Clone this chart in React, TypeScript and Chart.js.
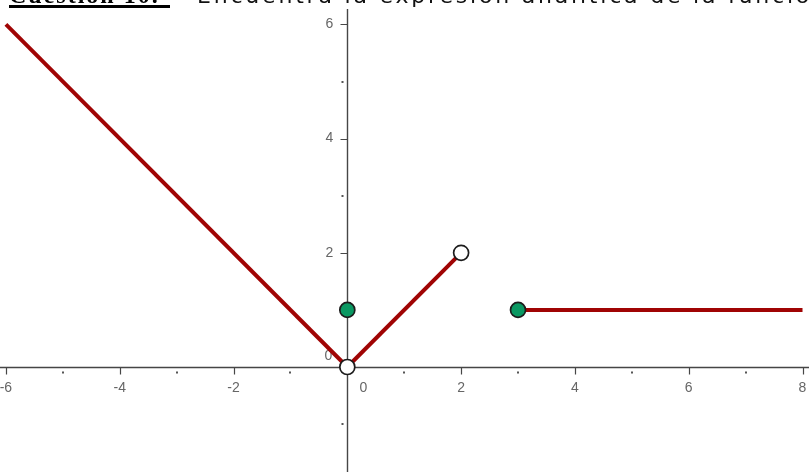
import React, { useEffect, useRef } from "react";
import { Chart, registerables } from "chart.js";

Chart.register(...registerables);

// Branches of the piecewise function
const leftBranchX = [-6, 0];
const leftBranchY = [6, 0];
const middleBranchX = [0, 2];
const middleBranchY = [0, 2];
const rightBranchX = [3, 8];
const rightBranchY = [1, 1];

// Closed (filled) and open (hollow) points
const closedPointsX = [0, 3];
const closedPointsY = [1, 1];
const openPointsX = [0, 2];
const openPointsY = [0, 2];

// Axis ticks and labels
const xMajorTicks = [-6, -4, -2, 0, 2, 4, 6, 8];
const xTickLabels = ["-6", "-4", "-2", "0", "2", "4", "6", "8"];
const xMinorTicks = [-5, -3, -1, 1, 3, 5, 7];
const yMajorTicks = [0, 2, 4, 6];
const yTickLabels = ["0", "2", "4", "6"];
const yMinorTicks = [-1, 1, 3, 5];

const titleBold = "Cuestión 10.";
const titleRest = "Encuentra la expresión analítica de la función";

const toPoints = (xs: number[], ys: number[]) => xs.map((x, i) => ({ x, y: ys[i] }));

const axesPlugin = {
  id: "centerAxes",
  beforeDatasetsDraw(chart: any) {
    const { ctx, chartArea } = chart;
    const xs = chart.scales.x;
    const ys = chart.scales.y;
    const x0 = Math.round(xs.getPixelForValue(0)) + 0.5;
    const y0 = Math.round(ys.getPixelForValue(0)) + 0.5;
    ctx.save();
    ctx.strokeStyle = "#464646";
    ctx.lineWidth = 1.4;
    ctx.beginPath();
    ctx.moveTo(chartArea.left, y0);
    ctx.lineTo(chartArea.right, y0);
    ctx.moveTo(x0, chartArea.top);
    ctx.lineTo(x0, chartArea.bottom);
    ctx.stroke();

    // major ticks
    ctx.lineWidth = 1.2;
    ctx.beginPath();
    xMajorTicks.forEach((v) => {
      if (v === 0) return;
      const px = Math.round(xs.getPixelForValue(v)) + 0.5;
      ctx.moveTo(px, y0);
      ctx.lineTo(px, y0 + 7);
    });
    yMajorTicks.forEach((v) => {
      if (v === 0) return;
      const py = Math.round(ys.getPixelForValue(v)) + 0.5;
      ctx.moveTo(x0 - 7, py);
      ctx.lineTo(x0, py);
    });
    ctx.stroke();

    // minor ticks (dots)
    ctx.fillStyle = "#555";
    xMinorTicks.forEach((v) => {
      const px = Math.round(xs.getPixelForValue(v));
      ctx.fillRect(px - 1, y0 + 4, 2, 2);
    });
    yMinorTicks.forEach((v) => {
      const py = Math.round(ys.getPixelForValue(v));
      ctx.fillRect(x0 - 6, py - 1, 2, 2);
    });

    // labels
    ctx.fillStyle = "#666666";
    ctx.font = "14px 'Liberation Sans', Arial, sans-serif";
    ctx.textBaseline = "middle";
    ctx.textAlign = "center";
    xMajorTicks.forEach((v, i) => {
      const px = xs.getPixelForValue(v);
      const lx = v === 0 ? px + 16 : px;
      ctx.fillText(xTickLabels[i], lx, y0 + 21);
    });
    yMajorTicks.forEach((v, i) => {
      const py = ys.getPixelForValue(v);
      if (v === 0) {
        ctx.fillText(yTickLabels[i], x0 - 19, py - 11);
      } else {
        ctx.fillText(yTickLabels[i], x0 - 18, py);
      }
    });
    ctx.restore();
  },
};

export default function App() {
  const canvasRef = useRef<HTMLCanvasElement | null>(null);

  useEffect(() => {
    document.body.style.margin = "0";
    document.body.style.background = "#ffffff";
    const canvas = canvasRef.current;
    if (!canvas) return;
    const red = "#a00404";
    const green = "#0a9862";
    const chart = new Chart(canvas, {
      type: "scatter",
      data: {
        datasets: [
          {
            data: toPoints(openPointsX, openPointsY),
            pointRadius: 7.5,
            pointBorderWidth: 1.7,
            pointBorderColor: "#1c1c1c",
            pointBackgroundColor: "#ffffff",
            showLine: false,
          },
          {
            data: toPoints(closedPointsX, closedPointsY),
            pointRadius: 7.5,
            pointBorderWidth: 1.7,
            pointBorderColor: "#1c1c1c",
            pointBackgroundColor: green,
            showLine: false,
          },
          {
            data: toPoints(leftBranchX, leftBranchY),
            showLine: true,
            borderColor: red,
            borderWidth: 4,
            pointRadius: 0,
          },
          {
            data: toPoints(middleBranchX, middleBranchY),
            showLine: true,
            borderColor: red,
            borderWidth: 4,
            pointRadius: 0,
          },
          {
            data: toPoints(rightBranchX, rightBranchY),
            showLine: true,
            borderColor: red,
            borderWidth: 4,
            pointRadius: 0,
          },
        ],
      } as any,
      options: {
        animation: false,
        responsive: false,
        maintainAspectRatio: false,
        layout: { autoPadding: false, padding: { top: 9, left: 0, right: 0, bottom: 0 } },
        plugins: { legend: { display: false }, tooltip: { enabled: false } },
        events: [],
        scales: {
          x: { type: "linear", min: -6.104, max: 8.114, display: false },
          y: { type: "linear", min: -1.839, max: 6.27, display: false },
        },
      } as any,
      plugins: [axesPlugin],
    });
    return () => chart.destroy();
  }, []);

  return (
    <div style={{ position: "absolute", left: 0, top: 0, width: 809, height: 472, overflow: "hidden", background: "#fff" }}>
      <canvas ref={canvasRef} width={809} height={472} style={{ position: "absolute", left: 0, top: 0 }} />
      <div
        style={{
          position: "absolute",
          left: 9,
          top: -15,
          lineHeight: "20px",
          whiteSpace: "nowrap",
          fontFamily: "'Liberation Serif', serif",
          fontWeight: "bold",
          fontSize: 24,
          letterSpacing: 2,
          color: "#000",
        }}
      >
        {titleBold}
      </div>
      <div
        style={{
          position: "absolute",
          left: 9,
          top: 5,
          width: 161,
          height: 3,
          background: "#000",
        }}
      />
      <div
        style={{
          position: "absolute",
          left: 197,
          top: -14,
          lineHeight: "20px",
          whiteSpace: "nowrap",
          fontFamily: "'DejaVu Sans', Verdana, sans-serif",
          fontSize: 22,
          letterSpacing: 2.8,
          color: "#111",
        }}
      >
        {titleRest}
      </div>
    </div>
  );
}
